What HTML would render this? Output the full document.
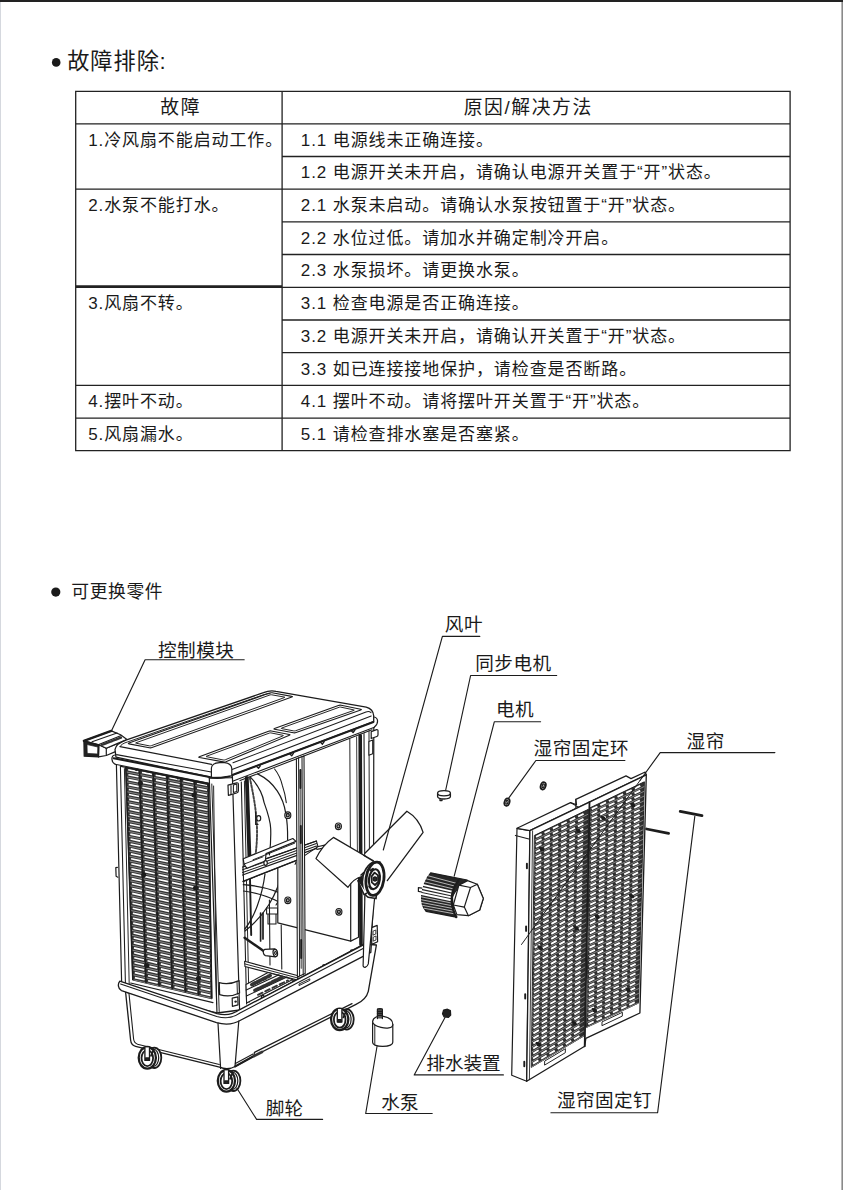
<!DOCTYPE html>
<html lang="zh"><head><meta charset="utf-8"><title>故障排除</title>
<style>
html,body{margin:0;padding:0;background:#fff}
body{width:843px;height:1190px;position:relative;overflow:hidden;font-family:"Liberation Sans",sans-serif}
.t{position:absolute;white-space:nowrap;color:transparent;line-height:1;overflow:hidden;height:1.1em}
svg text{font-family:"Liberation Sans","Noto Sans CJK SC",sans-serif;fill:#1a1a1a}
</style></head><body>
<svg width="843" height="1190" viewBox="0 0 843 1190" style="position:absolute;left:0;top:0"><rect x="0" y="0" width="843" height="2" fill="#222"/><rect x="841.4" y="2" width="1.6" height="1188" fill="#8a8a8a"/><rect x="0" y="2" width="1" height="1188" fill="#d5d8de"/><path d="M75.7 90.7V451.20000000000005M282.1 91.3V450.6M790.1 90.7V451.20000000000005M75.7 91.3H790.1M75.7 123.9H790.1M282.1 156.5H790.1M75.7 189.1H790.1M282.1 221.8H790.1M282.1 254.5H790.1M75.7 287.3H790.1M282.1 320.0H790.1M282.1 352.7H790.1M75.7 385.4H790.1M75.7 418.2H790.1M75.7 450.6H790.1M75.7 286.0H282.1" stroke="#222" stroke-width="1.3" fill="none"/><circle cx="56.2" cy="62.4" r="4.3" fill="#1a1a1a"/><circle cx="55.8" cy="592.1" r="4.6" fill="#1a1a1a"/><path d="M517.0 828.3 L529.9 830.6 L526.7 1081.3 L511.7 1075.3Z" stroke="#1c1c1c" stroke-width="1.2" fill="#fff" stroke-linejoin="round" stroke-linecap="round" /><path d="M517.0 828.3 L570.5 802.6 L576.5 804.8 L575.8 799.4 L626.0 775.9 L631.0 778.6 L645.2 772.0 L646.3 774.8 L529.9 830.6Z" stroke="#1c1c1c" stroke-width="1.2" fill="#fff" stroke-linejoin="round" stroke-linecap="round" /><path d="M570.5 802.6 L577.9 806.9M575.8 799.4 L575.8 808.0" stroke="#1c1c1c" stroke-width="1.08" fill="none" stroke-linejoin="round" stroke-linecap="round" /><path d="M529.9 830.6 L646.3 774.8 L639.9 1013.0 L585.8 1038.4 L584.7 1046.3 L526.7 1081.3Z" stroke="#1c1c1c" stroke-width="1.32" fill="#fff" stroke-linejoin="round" stroke-linecap="round" /><path d="M515.4 835.4L528.9 838.9" stroke="#1c1c1c" stroke-width="1.08" fill="none" stroke-linejoin="round" stroke-linecap="round" /><path d="M532.6 830.8 L529.4 1079.7" stroke="#1c1c1c" stroke-width="0.84" fill="none" stroke-linejoin="round" stroke-linecap="round" /><path d="M534.7 835.3 L588.4 809.3 L584.0 1035.9 L531.6 1067.2Z" stroke="#1c1c1c" stroke-width="0.96" fill="#303030" stroke-linejoin="round" stroke-linecap="round" /><path d="M534.6 840.2L588.3 814.1M534.6 845.2L588.2 819.0M534.5 850.2L588.1 823.9M534.4 855.3L588.0 828.9M534.4 860.3L587.9 833.8M534.3 865.4L587.9 838.7M534.2 870.4L587.8 843.6M534.2 875.4L587.7 848.6M534.1 880.5L587.6 853.5M534.0 885.5L587.5 858.4M534.0 890.6L587.4 863.3M533.9 895.6L587.3 868.3M533.8 900.7L587.2 873.2M533.8 905.7L587.1 878.1M533.7 910.7L587.0 883.1M533.6 915.8L586.9 888.0M533.6 920.8L586.8 892.9M533.5 925.9L586.7 897.8M533.4 930.9L586.6 902.8M533.4 935.9L586.5 907.7M533.3 941.0L586.4 912.6M533.2 946.0L586.3 917.5M533.2 951.1L586.2 922.5M533.1 956.1L586.1 927.4M533.0 961.1L586.0 932.3M533.0 966.2L585.9 937.2M532.9 971.2L585.8 942.2M532.8 976.3L585.7 947.1M532.7 981.3L585.6 952.0M532.7 986.4L585.5 956.9M532.6 991.4L585.4 961.9M532.5 996.4L585.3 966.8M532.5 1001.5L585.2 971.7M532.4 1006.5L585.1 976.6M532.3 1011.6L585.0 981.6M532.3 1016.6L584.9 986.5M532.2 1021.6L584.8 991.4M532.1 1026.7L584.7 996.3M532.1 1031.7L584.7 1001.3M532.0 1036.8L584.6 1006.2M531.9 1041.8L584.5 1011.1M531.9 1046.9L584.4 1016.0M531.8 1051.9L584.3 1021.0M531.7 1056.9L584.2 1025.9M531.7 1062.0L584.1 1030.8M531.6 1067.0L584.0 1035.7" stroke="#8c8c8c" stroke-width="0.9" fill="none"/><path d="M536.1 836.8L541.6 834.2M544.5 832.8L550.0 830.1M552.9 828.7L558.4 826.0M561.3 824.7L566.8 822.0M569.7 820.6L575.2 817.9M578.1 816.5L583.6 813.9M536.0 841.9L541.6 839.2M544.4 837.8L550.0 835.1M552.8 833.7L558.3 831.0M561.2 829.6L566.7 826.9M569.6 825.6L575.1 822.9M578.0 821.5L583.5 818.8M536.0 846.9L541.5 844.2M544.3 842.8L549.9 840.1M552.7 838.7L558.3 836.0M561.1 834.6L566.6 831.9M569.5 830.5L575.0 827.8M577.9 826.4L583.4 823.7M535.9 852.0L541.4 849.2M544.3 847.8L549.8 845.1M552.6 843.7L558.2 841.0M561.0 839.6L566.6 836.9M569.4 835.5L574.9 832.8M577.8 831.4L583.3 828.7M535.8 857.0L541.3 854.3M544.2 852.9L549.7 850.1M552.6 848.7L558.1 846.0M560.9 844.6L566.5 841.9M569.3 840.5L574.8 837.7M577.7 836.3L583.2 833.6M535.8 862.0L541.3 859.3M544.1 857.9L549.6 855.1M552.5 853.7L558.0 851.0M560.9 849.6L566.4 846.8M569.2 845.4L574.8 842.7M577.6 841.3L583.1 838.5M535.7 867.1L541.2 864.3M544.1 862.9L549.6 860.1M552.4 858.7L557.9 856.0M560.8 854.6L566.3 851.8M569.1 850.4L574.7 847.6M577.5 846.2L583.0 843.5M535.6 872.1L541.1 869.3M544.0 867.9L549.5 865.2M552.3 863.7L557.9 861.0M560.7 859.5L566.2 856.8M569.1 855.4L574.6 852.6M577.4 851.2L582.9 848.4M535.5 877.1L541.1 874.4M543.9 872.9L549.4 870.2M552.3 868.7L557.8 866.0M560.6 864.5L566.1 861.7M569.0 860.3L574.5 857.5M577.3 856.1L582.8 853.3M535.5 882.2L541.0 879.4M543.8 878.0L549.3 875.2M552.2 873.7L557.7 870.9M560.5 869.5L566.0 866.7M568.9 865.3L574.4 862.5M577.2 861.1L582.8 858.3M535.4 887.2L540.9 884.4M543.8 883.0L549.3 880.2M552.1 878.7L557.6 875.9M560.5 874.5L566.0 871.7M568.8 870.3L574.3 867.5M577.1 866.0L582.7 863.2M535.3 892.3L540.9 889.5M543.7 888.0L549.2 885.2M552.0 883.7L557.5 880.9M560.4 879.5L565.9 876.7M568.7 875.2L574.2 872.4M577.1 871.0L582.6 868.1M535.3 897.3L540.8 894.5M543.6 893.0L549.1 890.2M552.0 888.7L557.5 885.9M560.3 884.5L565.8 881.6M568.6 880.2L574.1 877.4M577.0 875.9L582.5 873.1M535.2 902.3L540.7 899.5M543.5 898.0L549.0 895.2M551.9 893.7L557.4 890.9M560.2 889.4L565.7 886.6M568.5 885.1L574.0 882.3M576.9 880.9L582.4 878.0M535.1 907.4L540.6 904.5M543.5 903.1L549.0 900.2M551.8 898.7L557.3 895.9M560.1 894.4L565.6 891.6M568.5 890.1L574.0 887.3M576.8 885.8L582.3 882.9M535.1 912.4L540.6 909.6M543.4 908.1L548.9 905.2M551.7 903.7L557.2 900.9M560.0 899.4L565.5 896.6M568.4 895.1L573.9 892.2M576.7 890.7L582.2 887.9M535.0 917.5L540.5 914.6M543.3 913.1L548.8 910.2M551.6 908.8L557.1 905.9M560.0 904.4L565.5 901.5M568.3 900.0L573.8 897.2M576.6 895.7L582.1 892.8M534.9 922.5L540.4 919.6M543.3 918.1L548.7 915.2M551.6 913.8L557.1 910.9M559.9 909.4L565.4 906.5M568.2 905.0L573.7 902.1M576.5 900.6L582.0 897.8M534.9 927.5L540.4 924.6M543.2 923.1L548.7 920.2M551.5 918.8L557.0 915.9M559.8 914.4L565.3 911.5M568.1 910.0L573.6 907.1M576.4 905.6L581.9 902.7M534.8 932.6L540.3 929.7M543.1 928.2L548.6 925.3M551.4 923.8L556.9 920.8M559.7 919.3L565.2 916.4M568.0 914.9L573.5 912.0M576.3 910.5L581.8 907.6M534.7 937.6L540.2 934.7M543.0 933.2L548.5 930.3M551.3 928.8L556.8 925.8M559.6 924.3L565.1 921.4M567.9 919.9L573.4 917.0M576.2 915.5L581.7 912.6M534.7 942.6L540.1 939.7M543.0 938.2L548.4 935.3M551.3 933.8L556.7 930.8M559.6 929.3L565.0 926.4M567.8 924.9L573.3 921.9M576.1 920.4L581.6 917.5M534.6 947.7L540.1 944.7M542.9 943.2L548.4 940.3M551.2 938.8L556.7 935.8M559.5 934.3L564.9 931.4M567.8 929.8L573.2 926.9M576.1 925.4L581.5 922.4M534.5 952.7L540.0 949.8M542.8 948.2L548.3 945.3M551.1 943.8L556.6 940.8M559.4 939.3L564.9 936.3M567.7 934.8L573.1 931.8M576.0 930.3L581.4 927.4M534.5 957.8L539.9 954.8M542.7 953.3L548.2 950.3M551.0 948.8L556.5 945.8M559.3 944.3L564.8 941.3M567.6 939.8L573.1 936.8M575.9 935.3L581.3 932.3M534.4 962.8L539.9 959.8M542.7 958.3L548.1 955.3M550.9 953.8L556.4 950.8M559.2 949.3L564.7 946.3M567.5 944.7L573.0 941.8M575.8 940.2L581.2 937.2M534.3 967.8L539.8 964.8M542.6 963.3L548.1 960.3M550.9 958.8L556.3 955.8M559.1 954.2L564.6 951.2M567.4 949.7L572.9 946.7M575.7 945.2L581.1 942.2M534.3 972.9L539.7 969.9M542.5 968.3L548.0 965.3M550.8 963.8L556.3 960.8M559.1 959.2L564.5 956.2M567.3 954.7L572.8 951.7M575.6 950.1L581.1 947.1M534.2 977.9L539.6 974.9M542.5 973.3L547.9 970.3M550.7 968.8L556.2 965.8M559.0 964.2L564.4 961.2M567.2 959.6L572.7 956.6M575.5 955.1L581.0 952.0M534.1 983.0L539.6 979.9M542.4 978.4L547.8 975.3M550.6 973.8L556.1 970.7M558.9 969.2L564.3 966.2M567.2 964.6L572.6 961.6M575.4 960.0L580.9 957.0M534.1 988.0L539.5 985.0M542.3 983.4L547.8 980.3M550.6 978.8L556.0 975.7M558.8 974.2L564.3 971.1M567.1 969.6L572.5 966.5M575.3 965.0L580.8 961.9M534.0 993.0L539.4 990.0M542.2 988.4L547.7 985.4M550.5 983.8L555.9 980.7M558.7 979.2L564.2 976.1M567.0 974.5L572.4 971.5M575.2 969.9L580.7 966.9M533.9 998.1L539.4 995.0M542.2 993.4L547.6 990.4M550.4 988.8L555.8 985.7M558.7 984.1L564.1 981.1M566.9 979.5L572.3 976.4M575.1 974.9L580.6 971.8M533.8 1003.1L539.3 1000.0M542.1 998.4L547.5 995.4M550.3 993.8L555.8 990.7M558.6 989.1L564.0 986.0M566.8 984.5L572.2 981.4M575.1 979.8L580.5 976.7M533.8 1008.1L539.2 1005.1M542.0 1003.5L547.5 1000.4M550.3 998.8L555.7 995.7M558.5 994.1L563.9 991.0M566.7 989.4L572.2 986.3M575.0 984.7L580.4 981.7M533.7 1013.2L539.1 1010.1M541.9 1008.5L547.4 1005.4M550.2 1003.8L555.6 1000.7M558.4 999.1L563.8 996.0M566.6 994.4L572.1 991.3M574.9 989.7L580.3 986.6M533.6 1018.2L539.1 1015.1M541.9 1013.5L547.3 1010.4M550.1 1008.8L555.5 1005.7M558.3 1004.1L563.8 1001.0M566.6 999.4L572.0 996.2M574.8 994.6L580.2 991.5M533.6 1023.3L539.0 1020.1M541.8 1018.5L547.2 1015.4M550.0 1013.8L555.4 1010.7M558.2 1009.1L563.7 1005.9M566.5 1004.3L571.9 1001.2M574.7 999.6L580.1 996.5M533.5 1028.3L538.9 1025.2M541.7 1023.5L547.1 1020.4M549.9 1018.8L555.4 1015.7M558.2 1014.0L563.6 1010.9M566.4 1009.3L571.8 1006.2M574.6 1004.5L580.0 1001.4M533.4 1033.3L538.9 1030.2M541.7 1028.6L547.1 1025.4M549.9 1023.8L555.3 1020.7M558.1 1019.0L563.5 1015.9M566.3 1014.3L571.7 1011.1M574.5 1009.5L579.9 1006.3M533.4 1038.4L538.8 1035.2M541.6 1033.6L547.0 1030.4M549.8 1028.8L555.2 1025.6M558.0 1024.0L563.4 1020.9M566.2 1019.2L571.6 1016.1M574.4 1014.4L579.8 1011.3M533.3 1043.4L538.7 1040.2M541.5 1038.6L546.9 1035.4M549.7 1033.8L555.1 1030.6M557.9 1029.0L563.3 1025.8M566.1 1024.2L571.5 1021.0M574.3 1019.4L579.7 1016.2M533.2 1048.5L538.6 1045.3M541.4 1043.6L546.8 1040.4M549.6 1038.8L555.0 1035.6M557.8 1034.0L563.2 1030.8M566.0 1029.2L571.4 1026.0M574.2 1024.3L579.6 1021.1M533.2 1053.5L538.6 1050.3M541.4 1048.7L546.8 1045.5M549.6 1043.8L555.0 1040.6M557.8 1039.0L563.2 1035.8M565.9 1034.1L571.4 1030.9M574.1 1029.3L579.5 1026.1M533.1 1058.5L538.5 1055.3M541.3 1053.7L546.7 1050.5M549.5 1048.8L554.9 1045.6M557.7 1043.9L563.1 1040.7M565.9 1039.1L571.3 1035.9M574.0 1034.2L579.5 1031.0M533.0 1063.6L538.4 1060.4M541.2 1058.7L546.6 1055.5M549.4 1053.8L554.8 1050.6M557.6 1048.9L563.0 1045.7M565.8 1044.1L571.2 1040.8M574.0 1039.2L579.4 1036.0" stroke="#fff" stroke-width="1.9" fill="none"/><path d="M590.3 807.7 L644.4 781.8 L638.5 1003.1 L586.9 1027.3Z" stroke="#1c1c1c" stroke-width="0.96" fill="#303030" stroke-linejoin="round" stroke-linecap="round" /><path d="M590.3 812.4L644.3 786.5M590.2 817.1L644.1 791.3M590.1 821.9L644.0 796.1M590.0 826.7L643.9 800.9M590.0 831.5L643.8 805.7M589.9 836.2L643.6 810.5M589.8 841.0L643.5 815.4M589.7 845.8L643.4 820.2M589.7 850.6L643.2 825.0M589.6 855.3L643.1 829.8M589.5 860.1L643.0 834.6M589.4 864.9L642.9 839.4M589.4 869.7L642.7 844.2M589.3 874.4L642.6 849.0M589.2 879.2L642.5 853.8M589.1 884.0L642.4 858.6M589.0 888.7L642.2 863.4M589.0 893.5L642.1 868.3M588.9 898.3L642.0 873.1M588.8 903.1L641.8 877.9M588.7 907.8L641.7 882.7M588.7 912.6L641.6 887.5M588.6 917.4L641.5 892.3M588.5 922.2L641.3 897.1M588.4 926.9L641.2 901.9M588.4 931.7L641.1 906.7M588.3 936.5L640.9 911.5M588.2 941.3L640.8 916.3M588.1 946.0L640.7 921.2M588.1 950.8L640.6 926.0M588.0 955.6L640.4 930.8M587.9 960.4L640.3 935.6M587.8 965.1L640.2 940.4M587.8 969.9L640.1 945.2M587.7 974.7L639.9 950.0M587.6 979.5L639.8 954.8M587.5 984.2L639.7 959.6M587.5 989.0L639.5 964.4M587.4 993.8L639.4 969.3M587.3 998.6L639.3 974.1M587.2 1003.3L639.2 978.9M587.2 1008.1L639.0 983.7M587.1 1012.9L638.9 988.5M587.0 1017.7L638.8 993.3M586.9 1022.4L638.7 998.1M586.9 1027.2L638.5 1002.9" stroke="#8c8c8c" stroke-width="0.9" fill="none"/><path d="M591.8 809.2L597.4 806.5M600.3 805.1L606.0 802.4M608.9 801.0L614.6 798.3M617.5 796.9L623.1 794.1M626.1 792.7L631.7 790.0M634.6 788.6L640.3 785.9M591.7 814.0L597.3 811.2M600.2 809.9L605.9 807.1M608.8 805.7L614.5 803.0M617.4 801.6L623.0 798.9M626.0 797.5L631.6 794.8M634.5 793.4L640.2 790.7M591.6 818.7L597.3 816.0M600.2 814.6L605.8 811.9M608.7 810.5L614.4 807.8M617.3 806.4L622.9 803.7M625.8 802.3L631.5 799.6M634.4 798.2L640.1 795.5M591.5 823.5L597.2 820.8M600.1 819.4L605.7 816.7M608.6 815.3L614.3 812.6M617.2 811.2L622.8 808.5M625.7 807.1L631.4 804.4M634.3 803.0L639.9 800.3M591.4 828.3L597.1 825.6M600.0 824.2L605.6 821.5M608.5 820.1L614.2 817.4M617.1 816.0L622.7 813.3M625.6 811.9L631.3 809.2M634.2 807.8L639.8 805.2M591.4 833.1L597.0 830.4M599.9 829.0L605.5 826.3M608.4 824.9L614.1 822.2M617.0 820.8L622.6 818.1M625.5 816.7L631.1 814.0M634.0 812.7L639.7 810.0M591.3 837.8L596.9 835.1M599.8 833.8L605.4 831.1M608.3 829.7L614.0 827.0M616.9 825.6L622.5 822.9M625.4 821.5L631.0 818.8M633.9 817.5L639.6 814.8M591.2 842.6L596.8 839.9M599.7 838.5L605.4 835.9M608.3 834.5L613.9 831.8M616.8 830.4L622.4 827.7M625.3 826.3L630.9 823.6M633.8 822.3L639.4 819.6M591.1 847.4L596.8 844.7M599.7 843.3L605.3 840.6M608.2 839.3L613.8 836.6M616.7 835.2L622.3 832.5M625.2 831.1L630.8 828.4M633.7 827.1L639.3 824.4M591.1 852.2L596.7 849.5M599.6 848.1L605.2 845.4M608.1 844.0L613.7 841.4M616.6 840.0L622.2 837.3M625.1 835.9L630.7 833.2M633.6 831.9L639.2 829.2M591.0 856.9L596.6 854.3M599.5 852.9L605.1 850.2M608.0 848.8L613.6 846.2M616.5 844.8L622.1 842.1M625.0 840.7L630.6 838.0M633.5 836.7L639.1 834.0M590.9 861.7L596.5 859.0M599.4 857.7L605.0 855.0M607.9 853.6L613.5 850.9M616.4 849.6L622.0 846.9M624.9 845.5L630.5 842.8M633.3 841.5L638.9 838.8M590.8 866.5L596.4 863.8M599.3 862.4L604.9 859.8M607.8 858.4L613.4 855.7M616.3 854.4L621.9 851.7M624.7 850.3L630.3 847.6M633.2 846.3L638.8 843.6M590.8 871.3L596.3 868.6M599.2 867.2L604.8 864.6M607.7 863.2L613.3 860.5M616.2 859.1L621.8 856.5M624.6 855.1L630.2 852.4M633.1 851.1L638.7 848.4M590.7 876.0L596.3 873.4M599.1 872.0L604.7 869.3M607.6 868.0L613.2 865.3M616.1 863.9L621.6 861.3M624.5 859.9L630.1 857.3M633.0 855.9L638.6 853.2M590.6 880.8L596.2 878.2M599.1 876.8L604.6 874.1M607.5 872.8L613.1 870.1M616.0 868.7L621.5 866.1M624.4 864.7L630.0 862.1M632.9 860.7L638.4 858.0M590.5 885.6L596.1 882.9M599.0 881.6L604.5 878.9M607.4 877.5L613.0 874.9M615.9 873.5L621.4 870.9M624.3 869.5L629.9 866.9M632.7 865.5L638.3 862.8M590.4 890.4L596.0 887.7M598.9 886.3L604.5 883.7M607.3 882.3L612.9 879.7M615.8 878.3L621.3 875.7M624.2 874.3L629.8 871.7M632.6 870.3L638.2 867.6M590.4 895.1L595.9 892.5M598.8 891.1L604.4 888.5M607.2 887.1L612.8 884.5M615.7 883.1L621.2 880.5M624.1 879.1L629.6 876.5M632.5 875.1L638.1 872.4M590.3 899.9L595.8 897.3M598.7 895.9L604.3 893.3M607.1 891.9L612.7 889.3M615.6 887.9L621.1 885.3M624.0 883.9L629.5 881.3M632.4 879.9L638.0 877.3M590.2 904.7L595.8 902.0M598.6 900.7L604.2 898.0M607.0 896.7L612.6 894.1M615.5 892.7L621.0 890.1M623.9 888.7L629.4 886.1M632.3 884.7L637.8 882.1M590.1 909.5L595.7 906.8M598.5 905.5L604.1 902.8M606.9 901.5L612.5 898.8M615.3 897.5L620.9 894.9M623.8 893.5L629.3 890.9M632.2 889.5L637.7 886.9M590.1 914.2L595.6 911.6M598.5 910.2L604.0 907.6M606.9 906.3L612.4 903.6M615.2 902.3L620.8 899.6M623.6 898.3L629.2 895.7M632.0 894.3L637.6 891.7M590.0 919.0L595.5 916.4M598.4 915.0L603.9 912.4M606.8 911.0L612.3 908.4M615.1 907.1L620.7 904.4M623.5 903.1L629.1 900.5M631.9 899.1L637.5 896.5M589.9 923.8L595.4 921.2M598.3 919.8L603.8 917.2M606.7 915.8L612.2 913.2M615.0 911.9L620.6 909.2M623.4 907.9L629.0 905.3M631.8 903.9L637.3 901.3M589.8 928.6L595.4 925.9M598.2 924.6L603.7 922.0M606.6 920.6L612.1 918.0M614.9 916.7L620.5 914.0M623.3 912.7L628.8 910.1M631.7 908.7L637.2 906.1M589.8 933.3L595.3 930.7M598.1 929.4L603.6 926.8M606.5 925.4L612.0 922.8M614.8 921.4L620.4 918.8M623.2 917.5L628.7 914.9M631.6 913.5L637.1 910.9M589.7 938.1L595.2 935.5M598.0 934.2L603.5 931.5M606.4 930.2L611.9 927.6M614.7 926.2L620.3 923.6M623.1 922.3L628.6 919.7M631.4 918.3L637.0 915.7M589.6 942.9L595.1 940.3M597.9 938.9L603.5 936.3M606.3 935.0L611.8 932.4M614.6 931.0L620.1 928.4M623.0 927.1L628.5 924.5M631.3 923.1L636.8 920.5M589.5 947.7L595.0 945.1M597.9 943.7L603.4 941.1M606.2 939.8L611.7 937.2M614.5 935.8L620.0 933.2M622.9 931.9L628.4 929.3M631.2 927.9L636.7 925.3M589.4 952.4L594.9 949.8M597.8 948.5L603.3 945.9M606.1 944.6L611.6 942.0M614.4 940.6L619.9 938.0M622.8 936.7L628.3 934.1M631.1 932.7L636.6 930.1M589.4 957.2L594.9 954.6M597.7 953.3L603.2 950.7M606.0 949.3L611.5 946.7M614.3 945.4L619.8 942.8M622.7 941.5L628.1 938.9M631.0 937.5L636.5 934.9M589.3 962.0L594.8 959.4M597.6 958.1L603.1 955.5M605.9 954.1L611.4 951.5M614.2 950.2L619.7 947.6M622.5 946.3L628.0 943.7M630.9 942.3L636.3 939.7M589.2 966.8L594.7 964.2M597.5 962.8L603.0 960.2M605.8 958.9L611.3 956.3M614.1 955.0L619.6 952.4M622.4 951.1L627.9 948.5M630.7 947.1L636.2 944.5M589.1 971.5L594.6 969.0M597.4 967.6L602.9 965.0M605.7 963.7L611.2 961.1M614.0 959.8L619.5 957.2M622.3 955.9L627.8 953.3M630.6 951.9L636.1 949.4M589.1 976.3L594.5 973.7M597.3 972.4L602.8 969.8M605.6 968.5L611.1 965.9M613.9 964.6L619.4 962.0M622.2 960.7L627.7 958.1M630.5 956.7L636.0 954.2M589.0 981.1L594.4 978.5M597.3 977.2L602.7 974.6M605.5 973.3L611.0 970.7M613.8 969.4L619.3 966.8M622.1 965.5L627.6 962.9M630.4 961.5L635.8 959.0M588.9 985.9L594.4 983.3M597.2 982.0L602.6 979.4M605.5 978.1L610.9 975.5M613.7 974.2L619.2 971.6M622.0 970.3L627.5 967.7M630.3 966.4L635.7 963.8M588.8 990.6L594.3 988.1M597.1 986.7L602.5 984.2M605.4 982.8L610.8 980.3M613.6 978.9L619.1 976.4M621.9 975.1L627.3 972.5M630.1 971.2L635.6 968.6M588.8 995.4L594.2 992.8M597.0 991.5L602.5 989.0M605.3 987.6L610.7 985.1M613.5 983.7L619.0 981.2M621.8 979.8L627.2 977.3M630.0 976.0L635.5 973.4M588.7 1000.2L594.1 997.6M596.9 996.3L602.4 993.7M605.2 992.4L610.6 989.9M613.4 988.5L618.9 986.0M621.7 984.6L627.1 982.1M629.9 980.8L635.4 978.2M588.6 1005.0L594.0 1002.4M596.8 1001.1L602.3 998.5M605.1 997.2L610.5 994.6M613.3 993.3L618.8 990.8M621.6 989.4L627.0 986.9M629.8 985.6L635.2 983.0M588.5 1009.7L594.0 1007.2M596.8 1005.9L602.2 1003.3M605.0 1002.0L610.4 999.4M613.2 998.1L618.6 995.6M621.4 994.2L626.9 991.7M629.7 990.4L635.1 987.8M588.4 1014.5L593.9 1012.0M596.7 1010.6L602.1 1008.1M604.9 1006.8L610.3 1004.2M613.1 1002.9L618.5 1000.4M621.3 999.0L626.8 996.5M629.6 995.2L635.0 992.6M588.4 1019.3L593.8 1016.7M596.6 1015.4L602.0 1012.9M604.8 1011.6L610.2 1009.0M613.0 1007.7L618.4 1005.2M621.2 1003.8L626.6 1001.3M629.4 1000.0L634.9 997.4M588.3 1024.1L593.7 1021.5M596.5 1020.2L601.9 1017.7M604.7 1016.3L610.1 1013.8M612.9 1012.5L618.3 1009.9M621.1 1008.6L626.5 1006.1M629.3 1004.8L634.7 1002.2" stroke="#fff" stroke-width="1.9" fill="none"/><path d="M589.5 802.0 L584.7 1046.3" stroke="#1c1c1c" stroke-width="1.8" fill="none" stroke-linejoin="round" stroke-linecap="round" /><path d="M545.0 1060.9 L565.4 1048.7 L565.3 1052.7 L544.9 1064.9Z" stroke="#1c1c1c" stroke-width="0.96" fill="#fff" stroke-linejoin="round" stroke-linecap="round" /><path d="M602.4 1021.7 L622.4 1012.3 L622.3 1016.1 L602.3 1025.5Z" stroke="#1c1c1c" stroke-width="0.96" fill="#fff" stroke-linejoin="round" stroke-linecap="round" /><path d="M539.3 847.4l3.6 0.6 1 2.6 -2.8 0.4z" fill="#1c1c1c" stroke="#1c1c1c" stroke-width="1"/><path d="M576.0 828.9l3.6 0.6 1 2.6 -2.8 0.4z" fill="#1c1c1c" stroke="#1c1c1c" stroke-width="1"/><path d="M537.6 945.7l3.6 0.6 1 2.6 -2.8 0.4z" fill="#1c1c1c" stroke="#1c1c1c" stroke-width="1"/><path d="M574.1 926.7l3.6 0.6 1 2.6 -2.8 0.4z" fill="#1c1c1c" stroke="#1c1c1c" stroke-width="1"/><path d="M536.0 1042.4l3.6 0.6 1 2.6 -2.8 0.4z" fill="#1c1c1c" stroke="#1c1c1c" stroke-width="1"/><path d="M572.0 1021.4l3.6 0.6 1 2.6 -2.8 0.4z" fill="#1c1c1c" stroke="#1c1c1c" stroke-width="1"/><path d="M594.7 914.9l3.6 0.6 1 2.6 -2.8 0.4z" fill="#1c1c1c" stroke="#1c1c1c" stroke-width="1"/><path d="M629.3 894.4l3.6 0.6 1 2.6 -2.8 0.4z" fill="#1c1c1c" stroke="#1c1c1c" stroke-width="1"/><path d="M592.1 1008.4l3.6 0.6 1 2.6 -2.8 0.4z" fill="#1c1c1c" stroke="#1c1c1c" stroke-width="1"/><path d="M625.8 987.9l3.6 0.6 1 2.6 -2.8 0.4z" fill="#1c1c1c" stroke="#1c1c1c" stroke-width="1"/><path d="M600.8 816.4l3.6 0.6 1 2.6 -2.8 0.4z" fill="#1c1c1c" stroke="#1c1c1c" stroke-width="1"/><path d="M630.3 803.4l3.6 0.6 1 2.6 -2.8 0.4z" fill="#1c1c1c" stroke="#1c1c1c" stroke-width="1"/><path d="M526.9 863.7v4.5" stroke="#1c1c1c" stroke-width="1.92" fill="none" stroke-linejoin="round" stroke-linecap="round" /><path d="M526.1 926.4v4.5" stroke="#1c1c1c" stroke-width="1.92" fill="none" stroke-linejoin="round" stroke-linecap="round" /><path d="M525.2 994.1v4.5" stroke="#1c1c1c" stroke-width="1.92" fill="none" stroke-linejoin="round" stroke-linecap="round" /><path d="M524.3 1061.8v4.5" stroke="#1c1c1c" stroke-width="1.92" fill="none" stroke-linejoin="round" stroke-linecap="round" /><path d="M640 780.5L521.5 944.5" stroke="#1c1c1c" stroke-width="0.96" fill="none" stroke-linejoin="round" stroke-linecap="round" /><path d="M646.6 829.0L668.6 833.4" stroke="#1c1c1c" stroke-width="2.76" fill="none" stroke-linejoin="round" stroke-linecap="round" /><path d="M680.2 811.4L702.0 815.7" stroke="#1c1c1c" stroke-width="2.76" fill="none" stroke-linejoin="round" stroke-linecap="round" /><path d="M430.7 872.8L467.2 880.0C461 884 452.5 893 451.9 899.6C451.5 906 453 913 456.1 917.2L426.1 911.3C422.5 907 421.2 901 421.6 896C422 888 426 878 430.7 872.8Z" stroke="#1c1c1c" stroke-width="1.2" fill="#262626" stroke-linejoin="round" stroke-linecap="round" /><path d="M428.2 875.8 L456.7 883.4" stroke="#fff" stroke-width="0.66" fill="none" stroke-linejoin="round" stroke-linecap="round" /><path d="M425.8 878.7 L454.9 886.1" stroke="#fff" stroke-width="0.66" fill="none" stroke-linejoin="round" stroke-linecap="round" /><path d="M423.7 881.7 L453.3 888.9" stroke="#fff" stroke-width="0.66" fill="none" stroke-linejoin="round" stroke-linecap="round" /><path d="M421.9 884.6 L452.0 891.7" stroke="#fff" stroke-width="1.8" fill="none" stroke-linejoin="round" stroke-linecap="round" /><path d="M420.5 887.6 L451.0 894.4" stroke="#fff" stroke-width="1.8" fill="none" stroke-linejoin="round" stroke-linecap="round" /><path d="M419.6 890.6 L450.4 897.2" stroke="#fff" stroke-width="1.8" fill="none" stroke-linejoin="round" stroke-linecap="round" /><path d="M419.3 893.5 L450.1 900.0" stroke="#fff" stroke-width="1.8" fill="none" stroke-linejoin="round" stroke-linecap="round" /><path d="M419.5 896.5 L450.3 902.8" stroke="#fff" stroke-width="0.66" fill="none" stroke-linejoin="round" stroke-linecap="round" /><path d="M420.1 899.5 L450.9 905.5" stroke="#fff" stroke-width="0.66" fill="none" stroke-linejoin="round" stroke-linecap="round" /><path d="M421.2 902.4 L451.8 908.3" stroke="#fff" stroke-width="0.66" fill="none" stroke-linejoin="round" stroke-linecap="round" /><path d="M422.6 905.4 L453.0 911.1" stroke="#fff" stroke-width="0.66" fill="none" stroke-linejoin="round" stroke-linecap="round" /><path d="M424.3 908.3 L454.3 913.8" stroke="#fff" stroke-width="0.66" fill="none" stroke-linejoin="round" stroke-linecap="round" /><path d="M421.8 888.2l-3.4 -0.6v3.8l3.2 0.6" stroke="#1c1c1c" stroke-width="1.2" fill="#fff" stroke-linejoin="round" stroke-linecap="round" /><path d="M467.6 880.6 L477.3 884.2 L483.3 898.5 L479.7 910.0 L468.4 915.7 L456.9 914.6 L453.3 905.0 L458.9 885.1Z" stroke="#1c1c1c" stroke-width="1.2" fill="#fff" stroke-linejoin="round" stroke-linecap="round" /><path d="M470.5 887.5 L477.3 884.2 L483.3 898.5 L479.7 910.0 L468.4 915.7 L464.3 907.1Z" stroke="#1c1c1c" stroke-width="1.2" fill="#fff" stroke-linejoin="round" stroke-linecap="round" /><path d="M458.9 885.1 L470.5 887.5M453.3 905.0 L464.3 907.1" stroke="#1c1c1c" stroke-width="1.2" fill="none" stroke-linejoin="round" stroke-linecap="round" /><path d="M458.4 880.8C452.8 888 451 896 452.2 903C452.8 909 454 913.5 456.3 917" stroke="#1c1c1c" stroke-width="2.4" fill="none" stroke-linejoin="round" stroke-linecap="round" /><path d="M437.6 793.2v3.4c0 3.2 12.8 3.2 12.8 0v-3.4" stroke="#1c1c1c" stroke-width="1.32" fill="#fff" stroke-linejoin="round" stroke-linecap="round" /><ellipse cx="444.0" cy="793.2" rx="6.4" ry="2.6" transform="rotate(0 444.0 793.2)" stroke="#1c1c1c" stroke-width="1.32" fill="#fff"/><path d="M440.0 799.0v1.5h2v-1.2" stroke="#1c1c1c" stroke-width="1.32" fill="none" stroke-linejoin="round" stroke-linecap="round" /><ellipse cx="507.0" cy="802.2" rx="2.5" ry="3.8" transform="rotate(18 507.0 802.2)" stroke="#1c1c1c" stroke-width="1.68" fill="#fff"/><ellipse cx="507.0" cy="802.2" rx="1.0" ry="2.0" transform="rotate(18 507.0 802.2)" stroke="#1c1c1c" stroke-width="1.32" fill="none"/><ellipse cx="543.2" cy="785.8" rx="2.5" ry="3.8" transform="rotate(18 543.2 785.8)" stroke="#1c1c1c" stroke-width="1.68" fill="#fff"/><ellipse cx="543.2" cy="785.8" rx="1.0" ry="2.0" transform="rotate(18 543.2 785.8)" stroke="#1c1c1c" stroke-width="1.32" fill="none"/><path d="M443.6 1010.0l3.8 -0.8 3.0 1.4 0.3 4.4 -2.2 2.3 -4.5 -0.5 -1.5 -3z" stroke="#1c1c1c" stroke-width="1.2" fill="#222" stroke-linejoin="round" stroke-linecap="round" /><path d="M372.6 1021.6v20.6c0 5.6 20.2 5.6 20.2 0v-17.8" stroke="#1c1c1c" stroke-width="1.2" fill="#fff" stroke-linejoin="round" stroke-linecap="round" /><path d="M372.6 1021.6C373 1017.2 378 1015.6 383.4 1016.4C389 1017.4 392.8 1020 392.8 1024.4C392.8 1028.6 386 1028.6 381 1027.4C376 1026.2 372.6 1024.6 372.6 1021.6Z" stroke="#1c1c1c" stroke-width="1.2" fill="#fff" stroke-linejoin="round" stroke-linecap="round" /><path d="M374.8 1025v19" stroke="#1c1c1c" stroke-width="0.96" fill="none" stroke-linejoin="round" stroke-linecap="round" /><path d="M377.4 1018.6v-9.2c0 -1 5 -1 5 0v9.2" stroke="#1c1c1c" stroke-width="1.2" fill="#555" stroke-linejoin="round" stroke-linecap="round" /><path d="M377.4 1011.4h5M377.4 1013.4h5M377.4 1015.4h5" stroke="#1c1c1c" stroke-width="1.08" fill="none" stroke-linejoin="round" stroke-linecap="round" /><path d="M240.0 780.6L372.0 729.8" stroke="#1c1c1c" stroke-width="1.08" fill="none" stroke-linejoin="round" stroke-linecap="round" /><path d="M256.7 766.6l1.8 1.8 1.8 -2.6" stroke="#1c1c1c" stroke-width="1.32" fill="none" stroke-linejoin="round" stroke-linecap="round" /><path d="M289.9 754.0l1.8 1.8 1.8 -2.6" stroke="#1c1c1c" stroke-width="1.32" fill="none" stroke-linejoin="round" stroke-linecap="round" /><path d="M320.59999999999997 742.4l1.8 1.8 1.8 -2.6" stroke="#1c1c1c" stroke-width="1.32" fill="none" stroke-linejoin="round" stroke-linecap="round" /><path d="M351.29999999999995 730.8l1.8 1.8 1.8 -2.6" stroke="#1c1c1c" stroke-width="1.32" fill="none" stroke-linejoin="round" stroke-linecap="round" /><path d="M241.3 782.0L246.6 1004.0" stroke="#1c1c1c" stroke-width="1.08" fill="none" stroke-linejoin="round" stroke-linecap="round" /><path d="M244.4 781.0L249.0 1002.5" stroke="#1c1c1c" stroke-width="0.96" fill="none" stroke-linejoin="round" stroke-linecap="round" /><path d="M246.8 778.0L249.4 856.0" stroke="#1c1c1c" stroke-width="3.84" fill="none" stroke-linejoin="round" stroke-linecap="round" /><path d="M249.6 860.0L251.2 935.0" stroke="#1c1c1c" stroke-width="1.92" fill="none" stroke-linejoin="round" stroke-linecap="round" /><path d="M249.8 777.8C253.5 795 256.6 812 257.0 828.7C257.2 838 256.6 846 255.7 853.5" stroke="#444" stroke-width="1.92" fill="none" stroke-linejoin="round" stroke-linecap="round" stroke-dasharray="2.2 1.6"/><path d="M250.4 777.2C258 785 262.6 794 264.1 802.6C267.5 812 270.4 820 270.7 828.7C271 838 270.4 847 269.4 854.8" stroke="#1c1c1c" stroke-width="1.2" fill="none" stroke-linejoin="round" stroke-linecap="round" /><path d="M257.6 773.9C266 778 272.6 784 277.2 790.9C282 798 284.6 806 285.7 813.1C287.2 821 287.8 829 287.6 839.8" stroke="#1c1c1c" stroke-width="1.2" fill="none" stroke-linejoin="round" stroke-linecap="round" /><path d="M274.6 769.0C278.6 774 281 779.6 282.4 785.7C284.2 791 285.6 797 286.3 802.6" stroke="#1c1c1c" stroke-width="1.08" fill="none" stroke-linejoin="round" stroke-linecap="round" /><ellipse cx="258.7" cy="818.3" rx="2.0" ry="2.7" transform="rotate(0 258.7 818.3)" stroke="#1c1c1c" stroke-width="1.2" fill="#fff"/><path d="M255.6 812v12.4h2.4" stroke="#1c1c1c" stroke-width="1.08" fill="none" stroke-linejoin="round" stroke-linecap="round" /><path d="M349.8 739.0L350.6 884.0" stroke="#1c1c1c" stroke-width="0.96" fill="none" stroke-linejoin="round" stroke-linecap="round" /><path d="M360.2 735.6L361.0 944.4" stroke="#1c1c1c" stroke-width="3.6" fill="none" stroke-linejoin="round" stroke-linecap="round" /><path d="M364.0 733.6L365.0 900" stroke="#1c1c1c" stroke-width="1.08" fill="none" stroke-linejoin="round" stroke-linecap="round" /><path d="M356.6 737.0L357.6 880" stroke="#1c1c1c" stroke-width="0.84" fill="none" stroke-linejoin="round" stroke-linecap="round" /><path d="M373.8 727.6L373.5 900L371.2 945.0" stroke="#1c1c1c" stroke-width="1.2" fill="none" stroke-linejoin="round" stroke-linecap="round" /><path d="M369.0 731.0L369.6 900" stroke="#1c1c1c" stroke-width="0.96" fill="none" stroke-linejoin="round" stroke-linecap="round" /><path d="M371.2 731.6l5.4 -2c1 -0.2 1.4 0.4 1.4 1.2v4c0 0.8 -0.4 1.4 -1.2 1.7l-5.6 2z" stroke="#1c1c1c" stroke-width="1.2" fill="#fff" stroke-linejoin="round" stroke-linecap="round" /><path d="M368.9 741.4l3.8 -1.4v13.8l-3.8 1.4z" stroke="#1c1c1c" stroke-width="1.08" fill="#fff" stroke-linejoin="round" stroke-linecap="round" /><path d="M371.6 927.6l5.6 -2.2 0.4 16.4 -5.8 2.6z" stroke="#1c1c1c" stroke-width="1.2" fill="#fff" stroke-linejoin="round" stroke-linecap="round" /><path d="M373.4 931l2.4 -1v4l-2.4 1zM373.6 937l2.4 -1v4l-2.4 1z" stroke="#1c1c1c" stroke-width="0.84" fill="none" stroke-linejoin="round" stroke-linecap="round" /><path d="M243.3 884.6C262 886 279 891 292 899" stroke="#1c1c1c" stroke-width="1.2" fill="none" stroke-linejoin="round" stroke-linecap="round" /><path d="M243.4 891.0C258 893 270 897 281 903" stroke="#1c1c1c" stroke-width="1.08" fill="none" stroke-linejoin="round" stroke-linecap="round" /><path d="M265.0 874.0C262 897 254 918 244.8 929.0" stroke="#1c1c1c" stroke-width="1.2" fill="none" stroke-linejoin="round" stroke-linecap="round" /><path d="M284.0 866.0C277 897 264 916 245.0 931.0" stroke="#1c1c1c" stroke-width="1.2" fill="none" stroke-linejoin="round" stroke-linecap="round" /><path d="M296 862C291 878 284 893 276 905" stroke="#1c1c1c" stroke-width="1.08" fill="none" stroke-linejoin="round" stroke-linecap="round" /><path d="M260.6 913v28M263.0 913v26" stroke="#1c1c1c" stroke-width="1.68" fill="none" stroke-linejoin="round" stroke-linecap="round" /><path d="M269.4 900L270.0 965M281.2 925L281.8 969" stroke="#1c1c1c" stroke-width="1.08" fill="none" stroke-linejoin="round" stroke-linecap="round" /><path d="M266.6 908h11v6h-11zM268 914v10h8v-10" stroke="#1c1c1c" stroke-width="1.08" fill="none" stroke-linejoin="round" stroke-linecap="round" /><path d="M277.8 866.0L277.8 922.8L350.7 941.1L358.5 937.2L358.5 860" stroke="#1c1c1c" stroke-width="1.2" fill="#fff" stroke-linejoin="round" stroke-linecap="round" /><path d="M350.7 941.1L350.7 870" stroke="#1c1c1c" stroke-width="1.2" fill="none" stroke-linejoin="round" stroke-linecap="round" /><ellipse cx="287.8" cy="900.3" rx="3.0" ry="3.3" transform="rotate(0 287.8 900.3)" stroke="#1c1c1c" stroke-width="1.2" fill="#fff"/><ellipse cx="287.8" cy="900.3" rx="1.5" ry="1.7" transform="rotate(0 287.8 900.3)" stroke="#1c1c1c" stroke-width="1.32" fill="#aaa"/><ellipse cx="338.9" cy="911.8" rx="3.0" ry="3.3" transform="rotate(0 338.9 911.8)" stroke="#1c1c1c" stroke-width="1.2" fill="#fff"/><ellipse cx="338.9" cy="911.8" rx="1.5" ry="1.7" transform="rotate(0 338.9 911.8)" stroke="#1c1c1c" stroke-width="1.32" fill="#aaa"/><ellipse cx="338.4" cy="826.3" rx="3.0" ry="3.3" transform="rotate(0 338.4 826.3)" stroke="#1c1c1c" stroke-width="1.2" fill="#fff"/><ellipse cx="338.4" cy="826.3" rx="1.5" ry="1.7" transform="rotate(0 338.4 826.3)" stroke="#1c1c1c" stroke-width="1.32" fill="#aaa"/><ellipse cx="287.8" cy="815.2" rx="3.0" ry="3.3" transform="rotate(0 287.8 815.2)" stroke="#1c1c1c" stroke-width="1.2" fill="#fff"/><ellipse cx="287.8" cy="815.2" rx="1.5" ry="1.7" transform="rotate(0 287.8 815.2)" stroke="#1c1c1c" stroke-width="1.32" fill="#aaa"/><path d="M243.0 867.0L316.4 841.0L318 846.6L298.6 859.6L243.6 881.4Z" stroke="#1c1c1c" stroke-width="1.08" fill="#fff" stroke-linejoin="round" stroke-linecap="round" /><path d="M242.6 867.0L316.4 841.0" stroke="#1c1c1c" stroke-width="1.2" fill="none" stroke-linejoin="round" stroke-linecap="round" /><path d="M242.6 869.8L316.4 843.6" stroke="#1c1c1c" stroke-width="1.08" fill="none" stroke-linejoin="round" stroke-linecap="round" /><path d="M242.6 872.6L316.4 846.0" stroke="#1c1c1c" stroke-width="1.08" fill="none" stroke-linejoin="round" stroke-linecap="round" /><path d="M242.6 875.0L316.4 848.4" stroke="#1c1c1c" stroke-width="1.32" fill="none" stroke-linejoin="round" stroke-linecap="round" /><path d="M243.0 881.4L298.6 859.6" stroke="#1c1c1c" stroke-width="1.44" fill="none" stroke-linejoin="round" stroke-linecap="round" /><path d="M316.3 847.0L326.8 844.6M316.8 849.4L326 847.6" stroke="#1c1c1c" stroke-width="1.08" fill="none" stroke-linejoin="round" stroke-linecap="round" /><path d="M243.3 858.7L292.8 838.5L296.0 841.4L266.0 853.6L265.4 861.0L247.0 868.2Q243.6 865 243.3 858.7Z" stroke="#1c1c1c" stroke-width="1.2" fill="#fff" stroke-linejoin="round" stroke-linecap="round" /><path d="M253.0 859.8L294.6 843.2M244.6 863.9L263 856.8" stroke="#1c1c1c" stroke-width="0.96" fill="none" stroke-linejoin="round" stroke-linecap="round" /><ellipse cx="265.6" cy="863.0" rx="1.7" ry="2.4" transform="rotate(0 265.6 863.0)" stroke="#1c1c1c" stroke-width="1.2" fill="#fff"/><path d="M244.6 937.8L265.4 952.2" stroke="#1c1c1c" stroke-width="2.4" fill="none" stroke-linejoin="round" stroke-linecap="round" /><path d="M264.6 949.4l9.8 -0.6c3 0.6 3.6 6.6 1 8l-10 -1.2c-2.4 -1 -3 -4.8 -0.8 -6.2z" stroke="#1c1c1c" stroke-width="1.2" fill="#fff" stroke-linejoin="round" stroke-linecap="round" /><ellipse cx="275.3" cy="953.0" rx="2.2" ry="3.6" transform="rotate(-10 275.3 953.0)" stroke="#1c1c1c" stroke-width="1.2" fill="#fff"/><ellipse cx="275.5" cy="953.0" rx="0.9" ry="1.5" transform="rotate(-10 275.5 953.0)" stroke="#1c1c1c" stroke-width="1.08" fill="none"/><path d="M244.6 961.3L298.1 975.7L297.6 980.0L245.0 966.6Z" stroke="#1c1c1c" stroke-width="1.08" fill="#fff" stroke-linejoin="round" stroke-linecap="round" /><path d="M244.8 963.9L297.8 978.0" stroke="#1c1c1c" stroke-width="0.96" fill="none" stroke-linejoin="round" stroke-linecap="round" /><path d="M246.0 984.5L268.0 972.5L292.8 979.4L246.6 1003.0Z" stroke="#1c1c1c" stroke-width="1.08" fill="#fff" stroke-linejoin="round" stroke-linecap="round" /><path d="M246.2 990.0L279.0 974.8M246.4 996.0L287.0 977.0" stroke="#1c1c1c" stroke-width="1.08" fill="none" stroke-linejoin="round" stroke-linecap="round" /><path d="M252.0 984.6L270.0 975.6" stroke="#333" stroke-width="3.84" fill="none" stroke-linejoin="round" stroke-linecap="round" stroke-dasharray="3.5 2.5"/><path d="M255.0 990.4L282.0 977.4" stroke="#333" stroke-width="3.6" fill="none" stroke-linejoin="round" stroke-linecap="round" stroke-dasharray="4 2.5"/><path d="M258.0 994.8L288.0 980.4" stroke="#333" stroke-width="1.92" fill="none" stroke-linejoin="round" stroke-linecap="round" stroke-dasharray="5 3"/><path d="M296.4 758.8L297.4 977.0L305.2 973.4L304.0 756.0Z" stroke="#1c1c1c" stroke-width="1.08" fill="#fff" stroke-linejoin="round" stroke-linecap="round" /><path d="M298.6 758.0L299.6 976.0M302.0 756.8L303.2 974.4" stroke="#1c1c1c" stroke-width="1.02" fill="none" stroke-linejoin="round" stroke-linecap="round" /><path d="M300.4 770L301.4 968" stroke="#777" stroke-width="1.68" fill="none" stroke-linejoin="round" stroke-linecap="round" /><path d="M300.4 770V788M300.8 826V843M301.2 940V958" stroke="#1c1c1c" stroke-width="1.92" fill="none" stroke-linejoin="round" stroke-linecap="round" /><ellipse cx="324.2" cy="966.3" rx="1.5" ry="1.7" transform="rotate(0 324.2 966.3)" stroke="#1c1c1c" stroke-width="1.32" fill="none"/><ellipse cx="352.0" cy="951.6" rx="1.5" ry="1.7" transform="rotate(0 352.0 951.6)" stroke="#1c1c1c" stroke-width="1.32" fill="none"/><ellipse cx="294.2" cy="981.5" rx="1.5" ry="1.7" transform="rotate(0 294.2 981.5)" stroke="#1c1c1c" stroke-width="1.32" fill="none"/><ellipse cx="262.8" cy="997.2" rx="1.5" ry="1.7" transform="rotate(0 262.8 997.2)" stroke="#1c1c1c" stroke-width="1.32" fill="none"/><path d="M116.4 764.5L121.6 981.4" stroke="#1c1c1c" stroke-width="1.2" fill="none" stroke-linejoin="round" stroke-linecap="round" /><path d="M120.4 766.0L125.4 983.0" stroke="#1c1c1c" stroke-width="1.08" fill="none" stroke-linejoin="round" stroke-linecap="round" /><path d="M124.4 768.6L129.2 984.6" stroke="#1c1c1c" stroke-width="0.96" fill="none" stroke-linejoin="round" stroke-linecap="round" /><path d="M117.4 867.3l-1.6 0.4 0.3 8.6 1.7 0.9" stroke="#1c1c1c" stroke-width="1.2" fill="none" stroke-linejoin="round" stroke-linecap="round" /><path d="M125.8 767.2 L208.4 783.4 L211.8 998.6 L132.8 979.9Z" stroke="#1c1c1c" stroke-width="1.08" fill="#343434" stroke-linejoin="round" stroke-linecap="round" /><path d="M126.0 771.9L208.5 788.2M126.1 776.8L208.6 793.2M126.3 781.8L208.6 798.2M126.4 786.7L208.7 803.2M126.6 791.7L208.8 808.2M126.8 796.6L208.9 813.2M126.9 801.6L208.9 818.2M127.1 806.5L209.0 823.2M127.3 811.5L209.1 828.2M127.4 816.4L209.2 833.2M127.6 821.4L209.3 838.2M127.7 826.3L209.3 843.2M127.9 831.3L209.4 848.2M128.1 836.2L209.5 853.2M128.2 841.2L209.6 858.2M128.4 846.1L209.7 863.2M128.6 851.0L209.7 868.2M128.7 856.0L209.8 873.2M128.9 860.9L209.9 878.2M129.0 865.9L210.0 883.2M129.2 870.8L210.1 888.2M129.4 875.8L210.1 893.3M129.5 880.7L210.2 898.3M129.7 885.7L210.3 903.3M129.9 890.6L210.4 908.3M130.0 895.6L210.5 913.3M130.2 900.5L210.5 918.3M130.3 905.5L210.6 923.3M130.5 910.4L210.7 928.3M130.7 915.3L210.8 933.3M130.8 920.3L210.8 938.3M131.0 925.2L210.9 943.3M131.2 930.2L211.0 948.3M131.3 935.1L211.1 953.3M131.5 940.1L211.2 958.3M131.7 945.0L211.2 963.3M131.8 950.0L211.3 968.3M132.0 954.9L211.4 973.3M132.1 959.9L211.5 978.3M132.3 964.8L211.6 983.3M132.5 969.8L211.6 988.3M132.6 974.7L211.7 993.3M132.8 979.7L211.8 998.3" stroke="#9c9c9c" stroke-width="0.8" fill="none"/><path d="M128.2 769.7L138.3 771.7M142.0 772.4L152.0 774.4M155.7 775.1L165.8 777.1M169.5 777.8L179.5 779.8M183.3 780.6L193.3 782.5M197.0 783.3L207.1 785.2M128.4 774.7L138.4 776.7M142.1 777.4L152.2 779.4M155.9 780.1L165.9 782.1M169.6 782.8L179.6 784.8M183.4 785.5L193.4 787.5M197.1 788.3L207.1 790.2M128.5 779.6L138.6 781.6M142.3 782.4L152.3 784.3M156.0 785.1L166.0 787.1M169.7 787.8L179.8 789.8M183.5 790.5L193.5 792.5M197.2 793.3L207.2 795.2M128.7 784.6L138.7 786.6M142.4 787.3L152.4 789.3M156.1 790.0L166.1 792.0M169.8 792.8L179.9 794.8M183.6 795.5L193.6 797.5M197.3 798.2L207.3 800.2M128.8 789.5L138.9 791.5M142.6 792.3L152.6 794.3M156.3 795.0L166.3 797.0M170.0 797.8L180.0 799.8M183.7 800.5L193.7 802.5M197.4 803.2L207.4 805.2M129.0 794.5L139.0 796.5M142.7 797.2L152.7 799.2M156.4 800.0L166.4 802.0M170.1 802.7L180.1 804.7M183.8 805.5L193.8 807.5M197.5 808.2L207.5 810.2M129.2 799.4L139.2 801.4M142.8 802.2L152.8 804.2M156.5 805.0L166.5 807.0M170.2 807.7L180.2 809.7M183.9 810.5L193.9 812.5M197.6 813.2L207.5 815.3M129.3 804.4L139.3 806.4M143.0 807.1L153.0 809.2M156.7 809.9L166.6 811.9M170.3 812.7L180.3 814.7M184.0 815.5L194.0 817.5M197.6 818.2L207.6 820.3M129.5 809.3L139.5 811.4M143.1 812.1L153.1 814.1M156.8 814.9L166.8 816.9M170.4 817.7L180.4 819.7M184.1 820.4L194.1 822.5M197.7 823.2L207.7 825.3M129.7 814.3L139.6 816.3M143.3 817.1L153.2 819.1M156.9 819.9L166.9 821.9M170.6 822.6L180.5 824.7M184.2 825.4L194.1 827.5M197.8 828.2L207.8 830.3M129.8 819.2L139.8 821.3M143.4 822.0L153.4 824.1M157.1 824.8L167.0 826.9M170.7 827.6L180.6 829.7M184.3 830.4L194.2 832.5M197.9 833.2L207.9 835.3M130.0 824.2L139.9 826.2M143.6 827.0L153.5 829.0M157.2 829.8L167.1 831.8M170.8 832.6L180.7 834.7M184.4 835.4L194.3 837.5M198.0 838.2L207.9 840.3M130.1 829.1L140.1 831.2M143.7 831.9L153.6 834.0M157.3 834.8L167.2 836.8M170.9 837.6L180.8 839.6M184.5 840.4L194.4 842.5M198.1 843.2L208.0 845.3M130.3 834.1L140.2 836.1M143.9 836.9L153.8 839.0M157.5 839.7L167.4 841.8M171.0 842.6L180.9 844.6M184.6 845.4L194.5 847.4M198.2 848.2L208.1 850.3M130.5 839.0L140.4 841.1M144.0 841.9L153.9 843.9M157.6 844.7L167.5 846.8M171.1 847.5L181.1 849.6M184.7 850.4L194.6 852.4M198.3 853.2L208.2 855.3M130.6 844.0L140.5 846.0M144.2 846.8L154.1 848.9M157.7 849.7L167.6 851.7M171.3 852.5L181.2 854.6M184.8 855.4L194.7 857.4M198.4 858.2L208.3 860.3M130.8 848.9L140.7 851.0M144.3 851.8L154.2 853.9M157.8 854.6L167.7 856.7M171.4 857.5L181.3 859.6M184.9 860.3L194.8 862.4M198.5 863.2L208.3 865.3M130.9 853.9L140.8 856.0M144.5 856.7L154.3 858.8M158.0 859.6L167.9 861.7M171.5 862.5L181.4 864.6M185.0 865.3L194.9 867.4M198.6 868.2L208.4 870.3M131.1 858.8L141.0 860.9M144.6 861.7L154.5 863.8M158.1 864.6L168.0 866.7M171.6 867.4L181.5 869.5M185.1 870.3L195.0 872.4M198.6 873.2L208.5 875.3M131.3 863.8L141.1 865.9M144.8 866.6L154.6 868.7M158.2 869.5L168.1 871.6M171.7 872.4L181.6 874.5M185.2 875.3L195.1 877.4M198.7 878.2L208.6 880.3M131.4 868.7L141.3 870.8M144.9 871.6L154.7 873.7M158.4 874.5L168.2 876.6M171.9 877.4L181.7 879.5M185.3 880.3L195.2 882.4M198.8 883.2L208.7 885.3M131.6 873.6L141.4 875.8M145.0 876.6L154.9 878.7M158.5 879.5L168.3 881.6M172.0 882.4L181.8 884.5M185.4 885.3L195.3 887.4M198.9 888.2L208.7 890.3M131.7 878.6L141.6 880.7M145.2 881.5L155.0 883.6M158.6 884.4L168.5 886.6M172.1 887.3L181.9 889.5M185.6 890.3L195.4 892.4M199.0 893.2L208.8 895.3M131.9 883.5L141.7 885.7M145.3 886.5L155.1 888.6M158.8 889.4L168.6 891.5M172.2 892.3L182.0 894.5M185.7 895.3L195.5 897.4M199.1 898.2L208.9 900.3M132.1 888.5L141.9 890.6M145.5 891.4L155.3 893.6M158.9 894.4L168.7 896.5M172.3 897.3L182.1 899.4M185.8 900.2L195.6 902.4M199.2 903.2L209.0 905.3M132.2 893.4L142.0 895.6M145.6 896.4L155.4 898.5M159.0 899.3L168.8 901.5M172.5 902.3L182.2 904.4M185.9 905.2L195.7 907.4M199.3 908.2L209.1 910.3M132.4 898.4L142.2 900.5M145.8 901.3L155.6 903.5M159.2 904.3L169.0 906.5M172.6 907.3L182.4 909.4M186.0 910.2L195.8 912.4M199.4 913.2L209.1 915.3M132.5 903.3L142.3 905.5M145.9 906.3L155.7 908.5M159.3 909.3L169.1 911.4M172.7 912.2L182.5 914.4M186.1 915.2L195.8 917.4M199.5 918.2L209.2 920.3M132.7 908.3L142.5 910.5M146.1 911.3L155.8 913.4M159.4 914.2L169.2 916.4M172.8 917.2L182.6 919.4M186.2 920.2L195.9 922.4M199.5 923.2L209.3 925.3M132.9 913.2L142.6 915.4M146.2 916.2L156.0 918.4M159.6 919.2L169.3 921.4M172.9 922.2L182.7 924.4M186.3 925.2L196.0 927.4M199.6 928.2L209.4 930.3M133.0 918.2L142.8 920.4M146.4 921.2L156.1 923.4M159.7 924.2L169.4 926.4M173.0 927.2L182.8 929.4M186.4 930.2L196.1 932.3M199.7 933.2L209.5 935.3M133.2 923.1L142.9 925.3M146.5 926.1L156.2 928.3M159.8 929.1L169.6 931.3M173.2 932.1L182.9 934.3M186.5 935.1L196.2 937.3M199.8 938.2L209.6 940.3M133.3 928.1L143.1 930.3M146.7 931.1L156.4 933.3M160.0 934.1L169.7 936.3M173.3 937.1L183.0 939.3M186.6 940.1L196.3 942.3M199.9 943.1L209.6 945.3M133.5 933.0L143.2 935.2M146.8 936.1L156.5 938.3M160.1 939.1L169.8 941.3M173.4 942.1L183.1 944.3M186.7 945.1L196.4 947.3M200.0 948.1L209.7 950.4M133.7 938.0L143.4 940.2M146.9 941.0L156.6 943.2M160.2 944.0L169.9 946.3M173.5 947.1L183.2 949.3M186.8 950.1L196.5 952.3M200.1 953.1L209.8 955.4M133.8 942.9L143.5 945.1M147.1 946.0L156.8 948.2M160.4 949.0L170.1 951.2M173.6 952.1L183.3 954.3M186.9 955.1L196.6 957.3M200.2 958.1L209.9 960.4M134.0 947.9L143.7 950.1M147.2 950.9L156.9 953.2M160.5 954.0L170.2 956.2M173.8 957.0L183.4 959.3M187.0 960.1L196.7 962.3M200.3 963.1L210.0 965.4M134.1 952.8L143.8 955.1M147.4 955.9L157.1 958.1M160.6 958.9L170.3 961.2M173.9 962.0L183.5 964.2M187.1 965.1L196.8 967.3M200.4 968.1L210.0 970.4M134.3 957.8L144.0 960.0M147.5 960.8L157.2 963.1M160.8 963.9L170.4 966.2M174.0 967.0L183.7 969.2M187.2 970.1L196.9 972.3M200.5 973.1L210.1 975.4M134.5 962.7L144.1 965.0M147.7 965.8L157.3 968.0M160.9 968.9L170.5 971.1M174.1 972.0L183.8 974.2M187.3 975.0L197.0 977.3M200.5 978.1L210.2 980.4M134.6 967.7L144.3 969.9M147.8 970.8L157.5 973.0M161.0 973.8L170.7 976.1M174.2 976.9L183.9 979.2M187.4 980.0L197.1 982.3M200.6 983.1L210.3 985.4M134.8 972.6L144.4 974.9M148.0 975.7L157.6 978.0M161.2 978.8L170.8 981.1M174.4 981.9L184.0 984.2M187.5 985.0L197.2 987.3M200.7 988.1L210.4 990.4M134.9 977.6L144.6 979.8M148.1 980.7L157.7 982.9M161.3 983.8L170.9 986.1M174.5 986.9L184.1 989.2M187.6 990.0L197.3 992.3M200.8 993.1L210.4 995.4" stroke="#fff" stroke-width="1.65" fill="none"/><path d="M125.8 767.2L132.8 979.9M139.6 769.9L146.0 983.0M153.3 772.6L159.1 986.1M167.1 775.3L172.3 989.2M180.9 778.0L185.5 992.4M194.6 780.7L198.6 995.5M208.4 783.4L211.8 998.6" stroke="#1c1c1c" stroke-width="1.5" fill="none"/><circle cx="140.4" cy="783.2" r="2.5" fill="#1c1c1c"/><circle cx="194.0" cy="795.0" r="2.5" fill="#1c1c1c"/><circle cx="143.7" cy="874.8" r="2.5" fill="#1c1c1c"/><circle cx="195.5" cy="887.9" r="2.5" fill="#1c1c1c"/><circle cx="147.0" cy="965.5" r="2.5" fill="#1c1c1c"/><circle cx="198.4" cy="978.6" r="2.5" fill="#1c1c1c"/><path d="M130.6 983.0L213.0 1002.6" stroke="#1c1c1c" stroke-width="1.08" fill="none" stroke-linejoin="round" stroke-linecap="round" /><path d="M213.6 786L216.6 1004" stroke="#1c1c1c" stroke-width="0.96" fill="none" stroke-linejoin="round" stroke-linecap="round" /><path d="M121.0 766.4L209.0 784.6" stroke="#1c1c1c" stroke-width="1.08" fill="none" stroke-linejoin="round" stroke-linecap="round" /><path d="M135.0 768.6l1.2 2 1.6 -1.6" stroke="#1c1c1c" stroke-width="1.2" fill="none" stroke-linejoin="round" stroke-linecap="round" /><path d="M176.8 777.2l1.2 2 1.6 -1.6" stroke="#1c1c1c" stroke-width="1.2" fill="none" stroke-linejoin="round" stroke-linecap="round" /><path d="M209.3 778L217.0 1013.6" stroke="#1c1c1c" stroke-width="1.2" fill="none" stroke-linejoin="round" stroke-linecap="round" /><path d="M211.8 784.0L219.2 1011.5" stroke="#1c1c1c" stroke-width="0.96" fill="none" stroke-linejoin="round" stroke-linecap="round" /><path d="M232.4 776.0L239.6 1010.0" stroke="#1c1c1c" stroke-width="1.2" fill="none" stroke-linejoin="round" stroke-linecap="round" /><path d="M219.2 982.6C225 984.2 233 983.4 239.0 980.6L239.5 993.0C233 996.2 225.5 996.4 219.6 994.6Z" stroke="#1c1c1c" stroke-width="1.32" fill="#fff" stroke-linejoin="round" stroke-linecap="round" /><path d="M237.0 981.6L237.4 994.0" stroke="#1c1c1c" stroke-width="0.96" fill="none" stroke-linejoin="round" stroke-linecap="round" /><path d="M232.2 998.2l5.6 -1.4 0.2 8 -5.6 1.6z" stroke="#1c1c1c" stroke-width="1.2" fill="#fff" stroke-linejoin="round" stroke-linecap="round" /><circle cx="235.6" cy="1001.6" r="1.2" fill="#1c1c1c"/><path d="M228.0 785.2l8.6 -2.4c1.4 -0.2 1.8 0.6 1.8 1.6v6.4c0 1 -0.6 1.8 -1.8 2.2l-8.2 2.4z" stroke="#1c1c1c" stroke-width="1.2" fill="#fff" stroke-linejoin="round" stroke-linecap="round" /><path d="M231.0 785.6v9M233.4 785.0l3.4 -1v7.4l-3.4 1z" stroke="#1c1c1c" stroke-width="1.08" fill="none" stroke-linejoin="round" stroke-linecap="round" /><path d="M125.6 992.2L130.6 1040.0C131 1044 132.6 1045.6 135.6 1046.4L219.5 1067.1C225 1069.4 231.6 1068.6 236.2 1066.0L254 1056.0L356 1004.4C362 1001.6 366.6 998 368.3 991.3L376.4 945.0L364 944L240 1010L217 1013Z" stroke="#1c1c1c" stroke-width="1.32" fill="#fff" stroke-linejoin="round" stroke-linecap="round" /><path d="M119.8 981.2L217.0 1013.6C225 1015.8 233 1014.4 239.4 1009.8L364.4 944.4L371.3 944.6L370.8 952.4L241 1020C234 1024.2 225 1025 216.5 1022.6L121.5 990.6C117.8 989 117.6 983.5 119.8 981.2Z" stroke="#1c1c1c" stroke-width="1.32" fill="#fff" stroke-linejoin="round" stroke-linecap="round" /><path d="M120.6 984.0L216.8 1016.4C225 1018.8 233.6 1017.6 240.0 1013.0L365.0 947.6" stroke="#1c1c1c" stroke-width="1.08" fill="none" stroke-linejoin="round" stroke-linecap="round" /><path d="M129.0 993.6L133.6 1039.0C134 1042 135 1043.4 137.6 1044.2L219.3 1064.6" stroke="#1c1c1c" stroke-width="1.08" fill="none" stroke-linejoin="round" stroke-linecap="round" /><path d="M218.0 1023.2L220.6 1068.4M238.8 1021.0L235.0 1066.6" stroke="#1c1c1c" stroke-width="1.2" fill="none" stroke-linejoin="round" stroke-linecap="round" /><path d="M254 1056.0L254.4 1052.4L352.0 1003.6" stroke="#1c1c1c" stroke-width="1.2" fill="none" stroke-linejoin="round" stroke-linecap="round" /><path d="M235.4 1063.4L253.0 1054.0" stroke="#1c1c1c" stroke-width="1.08" fill="none" stroke-linejoin="round" stroke-linecap="round" /><path d="M235.2 1066.4L254 1056.0" stroke="#1c1c1c" stroke-width="2.16" fill="none" stroke-linejoin="round" stroke-linecap="round" /><path d="M254 1056.0L262 1052" stroke="#333" stroke-width="2.64" fill="none" stroke-linejoin="round" stroke-linecap="round" stroke-dasharray="1.2 1"/><path d="M299.4 983.8l10.4 -5.0v1.6l-10.4 5.0z" stroke="#1c1c1c" stroke-width="0.96" fill="none" stroke-linejoin="round" stroke-linecap="round" /><path d="M98.8 744.8 L106.3 748.3 L117.7 743.4 L124.0 741.0 L124.0 749.0 L114.9 751.9 L106.3 755.5 L98.5 756.9Z" stroke="#1c1c1c" stroke-width="1.2" fill="#fff" stroke-linejoin="round" stroke-linecap="round" /><path d="M83.9 740.9 L111.3 730.9 L120.6 734.8 L127.0 739.5 L117.7 743.4 L106.3 748.3 L98.8 744.8Z" stroke="#1c1c1c" stroke-width="1.2" fill="#fff" stroke-linejoin="round" stroke-linecap="round" /><path d="M83.9 740.9 L111.3 730.9" stroke="#1c1c1c" stroke-width="2.4" fill="none" stroke-linejoin="round" stroke-linecap="round" /><path d="M92.1 741.8 L117.0 732.9M98.8 744.6 L120.6 735.7" stroke="#1c1c1c" stroke-width="1.08" fill="none" stroke-linejoin="round" stroke-linecap="round" /><path d="M101.6 745.0 L121.0 737.6" stroke="#333" stroke-width="2.4" fill="none" stroke-linejoin="round" stroke-linecap="round" stroke-dasharray="1.6 0.8"/><path d="M106.3 748.3 L106.3 755.5" stroke="#1c1c1c" stroke-width="1.2" fill="none" stroke-linejoin="round" stroke-linecap="round" /><path d="M83.9 740.9 L98.8 744.8 L98.5 756.9 L84.2 756.2Z" stroke="#1c1c1c" stroke-width="1.2" fill="#222" stroke-linejoin="round" stroke-linecap="round" /><path d="M87.2 744.6 L97.8 747.0 L97.6 754.0 L87.4 753.4Z" stroke="#1c1c1c" stroke-width="0.72" fill="#fff" stroke-linejoin="round" stroke-linecap="round" /><path d="M116.0 757.2L115.0 749.5C115.6 745.5 119.5 742.2 126.6 739.8L263.5 692.6C267.5 691.0 271.5 690.4 276 691.3L366.2 707.1C371 708.4 373.4 711.5 373.7 715.7V721.6L232.6 775.0L231.9 777.6L209.3 778.0L209.1 776.9Z" stroke="#1c1c1c" stroke-width="1.32" fill="#fff" stroke-linejoin="round" stroke-linecap="round" /><path d="M115.0 755.0C111.0 755.6 110.6 761.5 115.2 764.2" stroke="#1c1c1c" stroke-width="1.2" fill="none" stroke-linejoin="round" stroke-linecap="round" /><path d="M373.9 717.0C378.4 717.6 379.0 723.5 374.4 727.0" stroke="#1c1c1c" stroke-width="1.2" fill="none" stroke-linejoin="round" stroke-linecap="round" /><path d="M113.6 758.2L209.4 777.0C216 778.6 226 778.0 232.4 775.0L373.4 722.0" stroke="#1c1c1c" stroke-width="2.04" fill="none" stroke-linejoin="round" stroke-linecap="round" /><path d="M115.2 764.2L209.2 783.4M232.6 781.2L374.4 727.2" stroke="#1c1c1c" stroke-width="1.08" fill="none" stroke-linejoin="round" stroke-linecap="round" /><path d="M116.6 754.6L211.3 772.0" stroke="#1c1c1c" stroke-width="1.08" fill="none" stroke-linejoin="round" stroke-linecap="round" /><path d="M232.0 769.6L371.2 716.0" stroke="#1c1c1c" stroke-width="1.08" fill="none" stroke-linejoin="round" stroke-linecap="round" /><path d="M371.0 712.6C369.5 711.3 368 711.2 366 712.0L233 762.8" stroke="#1c1c1c" stroke-width="1.08" fill="none" stroke-linejoin="round" stroke-linecap="round" /><path d="M120.0 746.6L211.6 764.4" stroke="#1c1c1c" stroke-width="1.08" fill="none" stroke-linejoin="round" stroke-linecap="round" /><path d="M120.0 746.6C121 744.5 124 743 127.4 742.0L264 694.6C266 694.0 268 693.6 270 693.6" stroke="#1c1c1c" stroke-width="0.96" fill="none" stroke-linejoin="round" stroke-linecap="round" /><path d="M211.4 776.5V768.0C211.8 764.2 215 762.8 219.6 762.6H224.5C229 763.0 231.6 765 231.8 768.6V775.2" stroke="#1c1c1c" stroke-width="1.2" fill="#fff" stroke-linejoin="round" stroke-linecap="round" /><path d="M129.0 743.9Q127.6 743.6 128.9 743.1L269.4 693.1Q270.7 692.6 272.1 692.8L291.7 696.4Q293.1 696.6 291.8 697.1L152.0 747.6Q150.7 748.1 149.3 747.8Z" stroke="#1c1c1c" stroke-width="1.08" fill="none" stroke-linejoin="round" stroke-linecap="round" /><path d="M136.0 743.2Q135.1 743.0 135.9 742.8L270.1 694.9Q270.9 694.7 271.7 694.8L284.6 697.1Q285.4 697.3 284.6 697.5L151.3 745.7Q150.5 746.0 149.7 745.9Z" stroke="#1c1c1c" stroke-width="0.96" fill="none" stroke-linejoin="round" stroke-linecap="round" /><path d="M274.6 729.3Q273.2 729.0 274.5 728.5L338.4 705.4Q339.7 704.9 341.1 705.2L360.7 709.3Q362.1 709.6 360.8 710.1L296.1 732.6Q294.8 733.1 293.4 732.8Z" stroke="#1c1c1c" stroke-width="1.08" fill="none" stroke-linejoin="round" stroke-linecap="round" /><path d="M281.6 728.6Q280.7 728.4 281.5 728.1L339.1 707.3Q339.8 707.0 340.7 707.1L353.8 709.9Q354.7 710.1 353.9 710.4L295.4 730.8Q294.6 731.0 293.8 730.9Z" stroke="#1c1c1c" stroke-width="0.96" fill="none" stroke-linejoin="round" stroke-linecap="round" /><path d="M199.4 757.5Q198.0 757.2 199.3 756.7L268.6 731.2Q269.9 730.7 271.3 731.0L289.3 734.5Q290.7 734.8 289.4 735.3L225.9 761.7Q224.6 762.2 223.2 761.9Z" stroke="#1c1c1c" stroke-width="1.08" fill="none" stroke-linejoin="round" stroke-linecap="round" /><path d="M206.3 756.7Q205.5 756.6 206.3 756.3L269.3 733.1Q270.1 732.8 270.9 732.9L283.0 735.3Q283.8 735.5 283.1 735.8L225.2 759.8Q224.4 760.1 223.6 760.0Z" stroke="#1c1c1c" stroke-width="0.96" fill="none" stroke-linejoin="round" stroke-linecap="round" /><ellipse cx="154.3" cy="1057.8" rx="7.0" ry="10.2" transform="rotate(0 154.3 1057.8)" stroke="#1c1c1c" stroke-width="1.8" fill="#fff"/><ellipse cx="153.1" cy="1057.8" rx="5.6" ry="8.8" transform="rotate(0 153.1 1057.8)" stroke="#1c1c1c" stroke-width="1.2" fill="none"/><ellipse cx="147.3" cy="1057.8" rx="8.6" ry="10.8" transform="rotate(0 147.3 1057.8)" stroke="#1c1c1c" stroke-width="2.28" fill="#fff"/><ellipse cx="147.3" cy="1058.1" rx="5.8" ry="8.0" transform="rotate(0 147.3 1058.1)" stroke="#1c1c1c" stroke-width="1.8" fill="#fff"/><path d="M144.9 1047.4V1060.4h4.6V1047.4" stroke="#1c1c1c" stroke-width="1.32" fill="#fff" stroke-linejoin="round" stroke-linecap="round" /><path d="M145.7 1058.0h3v2.2h-3z" stroke="#1c1c1c" stroke-width="1.44" fill="#333" stroke-linejoin="round" stroke-linecap="round" /><path d="M150.9 1055.8L153.9 1049.2" stroke="#1c1c1c" stroke-width="1.68" fill="none" stroke-linejoin="round" stroke-linecap="round" /><ellipse cx="233.4" cy="1080.8" rx="7.0" ry="10.2" transform="rotate(0 233.4 1080.8)" stroke="#1c1c1c" stroke-width="1.8" fill="#fff"/><ellipse cx="232.2" cy="1080.8" rx="5.6" ry="8.8" transform="rotate(0 232.2 1080.8)" stroke="#1c1c1c" stroke-width="1.2" fill="none"/><ellipse cx="226.4" cy="1080.8" rx="8.6" ry="10.8" transform="rotate(0 226.4 1080.8)" stroke="#1c1c1c" stroke-width="2.28" fill="#fff"/><ellipse cx="226.4" cy="1081.1" rx="5.8" ry="8.0" transform="rotate(0 226.4 1081.1)" stroke="#1c1c1c" stroke-width="1.8" fill="#fff"/><path d="M224.0 1070.4V1083.4h4.6V1070.4" stroke="#1c1c1c" stroke-width="1.32" fill="#fff" stroke-linejoin="round" stroke-linecap="round" /><path d="M224.8 1081.0h3v2.2h-3z" stroke="#1c1c1c" stroke-width="1.44" fill="#333" stroke-linejoin="round" stroke-linecap="round" /><path d="M230.0 1078.8L233.0 1072.2" stroke="#1c1c1c" stroke-width="1.68" fill="none" stroke-linejoin="round" stroke-linecap="round" /><ellipse cx="346.7" cy="1019.4" rx="7.0" ry="10.2" transform="rotate(0 346.7 1019.4)" stroke="#1c1c1c" stroke-width="1.8" fill="#fff"/><ellipse cx="345.5" cy="1019.4" rx="5.6" ry="8.8" transform="rotate(0 345.5 1019.4)" stroke="#1c1c1c" stroke-width="1.2" fill="none"/><ellipse cx="339.7" cy="1019.4" rx="8.6" ry="10.8" transform="rotate(0 339.7 1019.4)" stroke="#1c1c1c" stroke-width="2.28" fill="#fff"/><ellipse cx="339.7" cy="1019.7" rx="5.8" ry="8.0" transform="rotate(0 339.7 1019.7)" stroke="#1c1c1c" stroke-width="1.8" fill="#fff"/><path d="M337.3 1009.0V1022.0h4.6V1009.0" stroke="#1c1c1c" stroke-width="1.32" fill="#fff" stroke-linejoin="round" stroke-linecap="round" /><path d="M338.1 1019.6h3v2.2h-3z" stroke="#1c1c1c" stroke-width="1.44" fill="#333" stroke-linejoin="round" stroke-linecap="round" /><path d="M343.3 1017.4L346.3 1010.8" stroke="#1c1c1c" stroke-width="1.68" fill="none" stroke-linejoin="round" stroke-linecap="round" /><path d="M364.9 896.0L363.1 966.0C364 968.2 367 967.6 368.3 963.9L374.7 897.0" stroke="#1c1c1c" stroke-width="1.2" fill="#fff" stroke-linejoin="round" stroke-linecap="round" /><path d="M333.4 837.4L373.2 860.8L361.6 876.5C356 878 351.5 882 347.9 887.3L316.0 858.6C320 850 326 842.5 333.4 837.4Z" stroke="#1c1c1c" stroke-width="1.26" fill="#fff" stroke-linejoin="round" stroke-linecap="round" /><path d="M364.9 853.3L406.9 811.2C415 816 420.5 823.5 423.1 832.4L387.3 880.7L372 872Z" stroke="none" stroke-width="0.01" fill="#fff" stroke-linejoin="round" stroke-linecap="round" /><path d="M364.9 853.3L406.9 811.2C415 816 420.5 823.5 423.1 832.4L387.3 880.7" stroke="#1c1c1c" stroke-width="1.26" fill="none" stroke-linejoin="round" stroke-linecap="round" /><path d="M372.4 862.4C366 866 362.4 874 362.4 882C362.6 890 364.6 895 368.2 897.3L376 898.6L380 862Z" stroke="#1c1c1c" stroke-width="1.56" fill="#fff" stroke-linejoin="round" stroke-linecap="round" /><path d="M357.9 880.7L364.1 894.8L366.6 893.2" stroke="#1c1c1c" stroke-width="1.56" fill="#fff" stroke-linejoin="round" stroke-linecap="round" /><path d="M361.0 875.0l3.0 -2.6" stroke="#1c1c1c" stroke-width="1.56" fill="none" stroke-linejoin="round" stroke-linecap="round" /><ellipse cx="375.0" cy="878.8" rx="8.9" ry="16.8" transform="rotate(8 375.0 878.8)" stroke="#1c1c1c" stroke-width="2.76" fill="#fff"/><ellipse cx="374.4" cy="879.2" rx="5.4" ry="10.0" transform="rotate(8 374.4 879.2)" stroke="#1c1c1c" stroke-width="2.16" fill="none"/><path d="M371.6 876.4L374.6 872.6L378.0 875.4L378.2 881.8L375.0 885.0L371.8 882.4Z" stroke="#1c1c1c" stroke-width="1.8" fill="#fff" stroke-linejoin="round" stroke-linecap="round" /><ellipse cx="375.0" cy="879.0" rx="1.6" ry="1.9" transform="rotate(0 375.0 879.0)" stroke="#1c1c1c" stroke-width="1.68" fill="#333"/><path d="M370.6 870.4l2.4 -1.6M369.2 886.6l2 2.2" stroke="#1c1c1c" stroke-width="1.92" fill="none" stroke-linejoin="round" stroke-linecap="round" /><path d="M364.0 855.4L373.4 861.0" stroke="#1c1c1c" stroke-width="1.56" fill="none" stroke-linejoin="round" stroke-linecap="round" /><path d="M244.2 659.8H145.1L111.4 731.1M479.8 636.4H442.4L383.3 850M556.7 675.5H470.6L445.6 790.5M540.6 721.8H494.3L454.2 876.1M624.9 760.5H535.9L508.5 798.3M774.9 752.6H660.2L640 780.5M503.4 1074.9H414.2L445.0 1017.6M432.2 1113.5H365.7L377.0 1046.5M322.6 1119.4H256.6L236.9 1088.3M550.9 1112.8H657.6L694.8 816.4" stroke="#1c1c1c" stroke-width="1.14" fill="none" stroke-linejoin="round" stroke-linecap="round" /><text x="67.2" y="68.8" font-size="22.2" letter-spacing="1">故障排除</text><text x="159.4" y="68.8" font-size="22.2">:</text><text x="160.3" y="113.6" font-size="18.8" letter-spacing="1.6">故障</text><text x="463.7" y="113.6" font-size="18.8" letter-spacing="1.6">原因/解决方法</text><text x="88.2" y="145.7" font-size="17" letter-spacing="0.9">1.冷风扇不能启动工作。</text><text x="88.2" y="210.9" font-size="17" letter-spacing="0.9">2.水泵不能打水。</text><text x="88.2" y="309.1" font-size="17" letter-spacing="0.9">3.风扇不转。</text><text x="88.2" y="407.2" font-size="17" letter-spacing="0.9">4.摆叶不动。</text><text x="88.2" y="440" font-size="17" letter-spacing="0.9">5.风扇漏水。</text><text x="300.8" y="145.7" font-size="17" letter-spacing="0.9">1.1 电源线未正确连接。</text><text x="300.8" y="178.3" font-size="17" letter-spacing="0.9">1.2 电源开关未开启，请确认电源开关置于“开”状态。</text><text x="300.8" y="210.9" font-size="17" letter-spacing="0.9">2.1 水泵未启动。请确认水泵按钮置于“开”状态。</text><text x="300.8" y="243.6" font-size="17" letter-spacing="0.9">2.2 水位过低。请加水并确定制冷开启。</text><text x="300.8" y="276.3" font-size="17" letter-spacing="0.9">2.3 水泵损坏。请更换水泵。</text><text x="300.8" y="309.1" font-size="17" letter-spacing="0.9">3.1 检查电源是否正确连接。</text><text x="300.8" y="341.8" font-size="17" letter-spacing="0.9">3.2 电源开关未开启，请确认开关置于“开”状态。</text><text x="300.8" y="374.5" font-size="17" letter-spacing="0.9">3.3 如已连接接地保护，请检查是否断路。</text><text x="300.8" y="407.2" font-size="17" letter-spacing="0.9">4.1 摆叶不动。请将摆叶开关置于“开”状态。</text><text x="300.8" y="440" font-size="17" letter-spacing="0.9">5.1 请检查排水塞是否塞紧。</text><text x="71.3" y="597.8" font-size="17.8" letter-spacing="0.6">可更换零件</text><text x="158" y="656.6" font-size="18.6" letter-spacing="0.5">控制模块</text><text x="444.8" y="631.4" font-size="18.6" letter-spacing="0.5">风叶</text><text x="475.2" y="670.2" font-size="18.6" letter-spacing="0.5">同步电机</text><text x="496" y="716.2" font-size="18.6" letter-spacing="0.5">电机</text><text x="533.6" y="755.3" font-size="18.6" letter-spacing="0.5">湿帘固定环</text><text x="686.6" y="748" font-size="18.6" letter-spacing="0.5">湿帘</text><text x="426.3" y="1070" font-size="18.6">排水装置</text><text x="381.3" y="1109.3" font-size="18.6">水泵</text><text x="265.8" y="1115.3" font-size="18.6">脚轮</text><text x="557" y="1107.4" font-size="18.6" letter-spacing="0.4">湿帘固定钉</text></svg>
<div class="t" style="left:67.2px;top:49.3px;font-size:22.2px;width:97px">故障排除</div><div class="t" style="left:159.4px;top:49.3px;font-size:22.2px;width:11px">:</div><div class="t" style="left:160.3px;top:97.1px;font-size:18.8px;width:45px">故障</div><div class="t" style="left:463.7px;top:97.1px;font-size:18.8px;width:133px">原因/解决方法</div><div class="t" style="left:88.2px;top:130.7px;font-size:17.0px;width:197px">1.冷风扇不能启动工作。</div><div class="t" style="left:88.2px;top:195.9px;font-size:17.0px;width:144px">2.水泵不能打水。</div><div class="t" style="left:88.2px;top:294.1px;font-size:17.0px;width:108px">3.风扇不转。</div><div class="t" style="left:88.2px;top:392.2px;font-size:17.0px;width:108px">4.摆叶不动。</div><div class="t" style="left:88.2px;top:425.0px;font-size:17.0px;width:108px">5.风扇漏水。</div><div class="t" style="left:300.8px;top:130.7px;font-size:17.0px;width:195px">1.1 电源线未正确连接。</div><div class="t" style="left:300.8px;top:163.3px;font-size:17.0px;width:446px">1.2 电源开关未开启，请确认电源开关置于“开”状态。</div><div class="t" style="left:300.8px;top:195.9px;font-size:17.0px;width:410px">2.1 水泵未启动。请确认水泵按钮置于“开”状态。</div><div class="t" style="left:300.8px;top:228.6px;font-size:17.0px;width:320px">2.2 水位过低。请加水并确定制冷开启。</div><div class="t" style="left:300.8px;top:261.3px;font-size:17.0px;width:231px">2.3 水泵损坏。请更换水泵。</div><div class="t" style="left:300.8px;top:294.1px;font-size:17.0px;width:231px">3.1 检查电源是否正确连接。</div><div class="t" style="left:300.8px;top:326.8px;font-size:17.0px;width:410px">3.2 电源开关未开启，请确认开关置于“开”状态。</div><div class="t" style="left:300.8px;top:359.5px;font-size:17.0px;width:338px">3.3 如已连接接地保护，请检查是否断路。</div><div class="t" style="left:300.8px;top:392.2px;font-size:17.0px;width:374px">4.1 摆叶不动。请将摆叶开关置于“开”状态。</div><div class="t" style="left:300.8px;top:425.0px;font-size:17.0px;width:231px">5.1 请检查排水塞是否塞紧。</div><div class="t" style="left:71.3px;top:582.1px;font-size:17.8px;width:96px">可更换零件</div><div class="t" style="left:158.0px;top:640.2px;font-size:18.6px;width:80px">控制模块</div><div class="t" style="left:444.8px;top:615.0px;font-size:18.6px;width:42px">风叶</div><div class="t" style="left:475.2px;top:653.8px;font-size:18.6px;width:80px">同步电机</div><div class="t" style="left:496.0px;top:699.8px;font-size:18.6px;width:42px">电机</div><div class="t" style="left:533.6px;top:738.9px;font-size:18.6px;width:100px">湿帘固定环</div><div class="t" style="left:686.6px;top:731.6px;font-size:18.6px;width:42px">湿帘</div><div class="t" style="left:426.3px;top:1053.6px;font-size:18.6px;width:77px">排水装置</div><div class="t" style="left:381.3px;top:1092.9px;font-size:18.6px;width:41px">水泵</div><div class="t" style="left:265.8px;top:1098.9px;font-size:18.6px;width:40px">脚轮</div><div class="t" style="left:557.0px;top:1091.0px;font-size:18.6px;width:99px">湿帘固定钉</div>
</body></html>
